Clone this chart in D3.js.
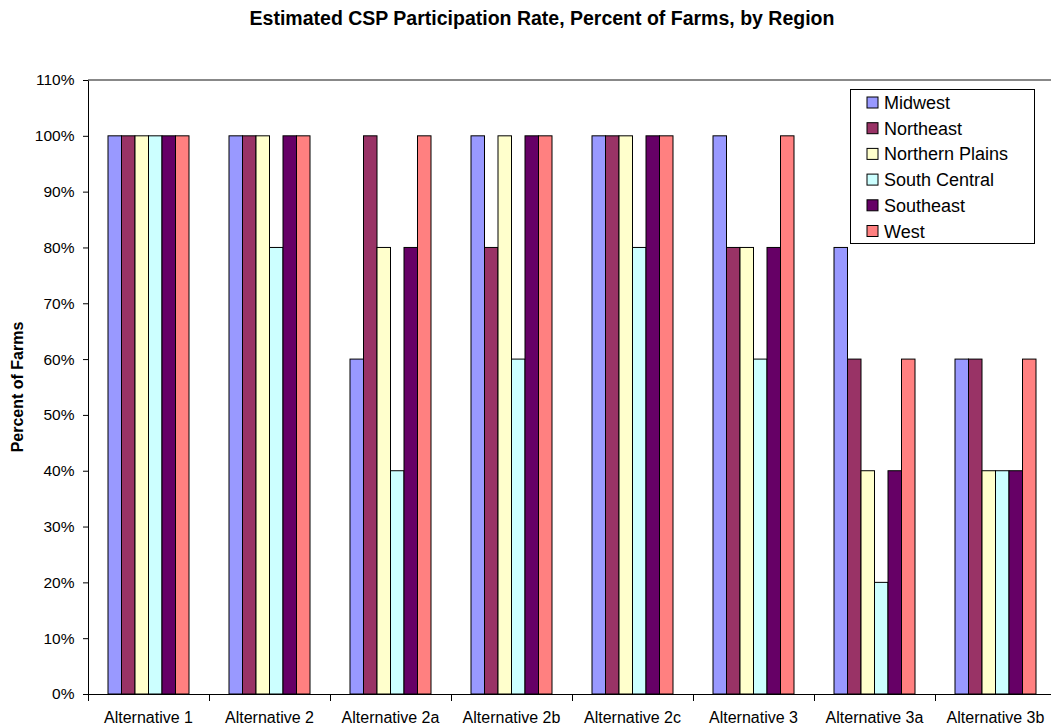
<!DOCTYPE html>
<html>
<head>
<meta charset="utf-8">
<script src="https://cdn.jsdelivr.net/npm/d3@7"></script>
<style>
  html, body { margin: 0; padding: 0; background: #fff; }
  svg { display: block; font-family: "Liberation Sans", Arial, sans-serif; }
</style>
</head>
<body>
<svg id="chart" width="1051" height="727"></svg>
<script>
// Scenario categories along the x axis
const alternatives = ["Alternative 1", "Alternative 2", "Alternative 2a", "Alternative 2b",
                      "Alternative 2c", "Alternative 3", "Alternative 3a", "Alternative 3b"];

// Regions (series) and their fill colours
const regions = ["Midwest", "Northeast", "Northern Plains", "South Central", "Southeast", "West"];
const regionColors = ["#9999FF", "#993366", "#FFFFCC", "#CCFFFF", "#660066", "#FF8080"];

// Participation rate (percent of farms) per region, one entry per alternative
const midwest        = [100, 100,  60, 100, 100, 100, 80, 60];
const northeast      = [100, 100, 100,  80, 100,  80, 60, 60];
const northernPlains = [100, 100,  80, 100, 100,  80, 40, 40];
const southCentral   = [100,  80,  40,  60,  80,  60, 20, 40];
const southeast      = [100, 100,  80, 100, 100,  80, 40, 40];
const west           = [100, 100, 100, 100, 100, 100, 60, 60];

// Y axis tick values (percent)
const yTicks = [0, 10, 20, 30, 40, 50, 60, 70, 80, 90, 100, 110];

const seriesValues = [midwest, northeast, northernPlains, southCentral, southeast, west];

const svg = d3.select("#chart");

const plot = { left: 88, top: 80, right: 1056, bottom: 694 };

const x = d3.scaleBand()
  .domain(alternatives)
  .range([plot.left, plot.right])
  .paddingInner(0)
  .paddingOuter(0);

// The six bars of a group fill about two thirds of each category slot
const barsSpan = x.bandwidth() * 81 / 121;
const xInner = d3.scaleBand()
  .domain(regions)
  .range([(x.bandwidth() - barsSpan) / 2, (x.bandwidth() + barsSpan) / 2])
  .padding(0);

const y = d3.scaleLinear()
  .domain([0, 110])
  .range([plot.bottom, plot.top]);

// Title
svg.append("text")
  .attr("x", 542)
  .attr("y", 25)
  .attr("text-anchor", "middle")
  .attr("font-size", 19.5)
  .attr("font-weight", "bold")
  .text("Estimated CSP Participation Rate, Percent of Farms, by Region");

// Top border of the plot area
svg.append("line")
  .attr("x1", plot.left).attr("x2", plot.right)
  .attr("y1", plot.top).attr("y2", plot.top)
  .attr("stroke", "#888").attr("stroke-width", 2);

// Bars
const groups = svg.append("g").selectAll("g")
  .data(alternatives)
  .join("g")
  .attr("transform", d => `translate(${x(d)},0)`);

groups.selectAll("rect")
  .data((d, i) => regions.map((r, j) => ({ region: r, value: seriesValues[j][i], color: regionColors[j] })))
  .join("rect")
  .attr("x", d => xInner(d.region))
  .attr("y", d => y(d.value))
  .attr("width", xInner.bandwidth())
  .attr("height", d => y(0) - y(d.value))
  .attr("fill", d => d.color)
  .attr("stroke", "#000")
  .attr("stroke-width", 1);

// Y axis
const yAxis = svg.append("g")
  .attr("transform", `translate(${plot.left},0)`)
  .call(d3.axisLeft(y).tickValues(yTicks).tickFormat(d => d + "%").tickSize(5).tickSizeOuter(0));
yAxis.select(".domain").attr("stroke", "#000");
yAxis.selectAll(".tick line").attr("stroke", "#000");
yAxis.selectAll(".tick text")
  .attr("font-size", 15.5)
  .attr("font-family", "Liberation Sans, Arial, sans-serif")
  .attr("fill", "#000")
  .attr("x", -13.5);

// X axis
const xAxis = svg.append("g")
  .attr("transform", `translate(0,${plot.bottom})`)
  .call(d3.axisBottom(x).tickSize(0).tickSizeOuter(0));
xAxis.select(".domain").attr("stroke", "#000");
xAxis.selectAll(".tick text")
  .attr("font-size", 16)
  .attr("font-family", "Liberation Sans, Arial, sans-serif")
  .attr("fill", "#000")
  .attr("dy", 0)
  .attr("y", 29);

// Category separator ticks on the x axis
svg.append("g").selectAll("line")
  .data(alternatives)
  .join("line")
  .attr("x1", d => x(d) + 0.5).attr("x2", d => x(d) + 0.5)
  .attr("y1", plot.bottom).attr("y2", plot.bottom + 7)
  .attr("stroke", "#000");

// Y axis title
svg.append("text")
  .attr("transform", `translate(23,${(plot.top + plot.bottom) / 2}) rotate(-90)`)
  .attr("text-anchor", "middle")
  .attr("font-size", 16)
  .attr("font-weight", "bold")
  .text("Percent of Farms");

// Legend
const legend = svg.append("g").attr("transform", "translate(850.5,89.5)");
legend.append("rect")
  .attr("width", 184).attr("height", 154)
  .attr("fill", "#fff").attr("stroke", "#000");

const rowY = d3.scalePoint().domain(regions).range([13, 141.5]);
const item = legend.selectAll("g.item")
  .data(regions)
  .join("g")
  .attr("class", "item")
  .attr("transform", d => `translate(16.5,${rowY(d)})`);
item.append("rect")
  .attr("x", 0).attr("y", -5.5)
  .attr("width", 11).attr("height", 11)
  .attr("fill", (d, i) => regionColors[i])
  .attr("stroke", "#000");
item.append("text")
  .attr("x", 17).attr("y", 6.5)
  .attr("font-size", 18)
  .text(d => d);
</script>
</body>
</html>
